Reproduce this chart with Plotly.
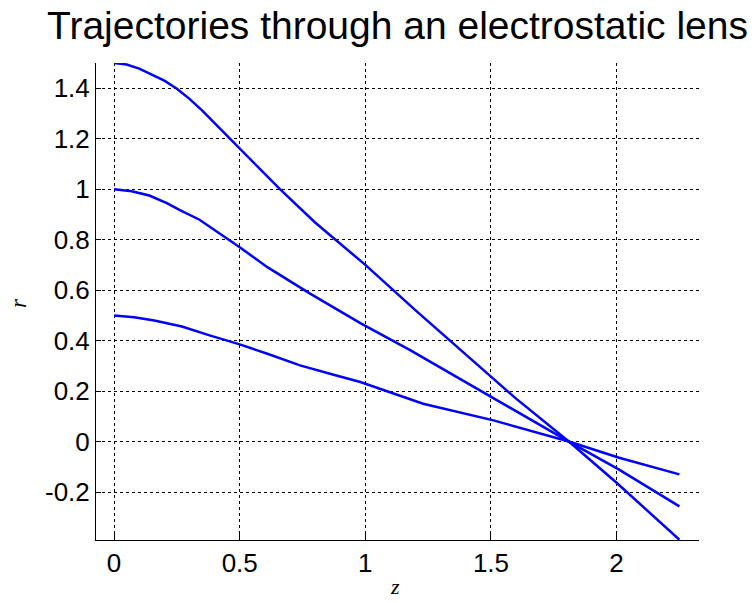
import plotly.graph_objects as go

# Trajectory data (z, r)
z_r15 = [0, 0.05, 0.10, 0.15, 0.20, 0.25, 0.30, 0.35, 0.40, 0.50, 0.60, 0.66, 0.80, 1.00, 1.20, 1.40, 1.60, 1.81, 2.00, 2.25]
r_r15 = [1.50, 1.494, 1.478, 1.455, 1.430, 1.398, 1.358, 1.312, 1.262, 1.162, 1.062, 1.0, 0.868, 0.70, 0.52, 0.345, 0.17, 0.0, -0.163, -0.389]

z_r10 = [0, 0.07, 0.14, 0.21, 0.26, 0.34, 0.50, 0.61, 0.78, 0.98, 1.18, 1.50, 1.81, 2.01, 2.25]
r_r10 = [1.0, 0.992, 0.975, 0.945, 0.918, 0.879, 0.77, 0.691, 0.586, 0.469, 0.361, 0.176, 0.0, -0.111, -0.257]

z_r05 = [0, 0.08, 0.16, 0.27, 0.38, 0.50, 0.61, 0.74, 0.87, 0.98, 1.23, 1.51, 1.81, 2.01, 2.25]
r_r05 = [0.5, 0.493, 0.48, 0.456, 0.421, 0.385, 0.348, 0.302, 0.266, 0.236, 0.15, 0.084, 0.0, -0.064, -0.13]

x_ticks = [0, 0.5, 1, 1.5, 2]
x_ticklabels = ["0", "0.5", "1", "1.5", "2"]
y_ticks = [-0.2, 0, 0.2, 0.4, 0.6, 0.8, 1.0, 1.2, 1.4]
y_ticklabels = ["-0.2", "0", "0.2", "0.4", "0.6", "0.8", "1", "1.2", "1.4"]

fig = go.Figure()
for zs, rs in [(z_r15, r_r15), (z_r10, r_r10), (z_r05, r_r05)]:
    fig.add_trace(go.Scatter(x=zs, y=rs, mode="lines",
                             line=dict(color="#0000FF", width=2.5),
                             showlegend=False, hoverinfo="skip"))

tickfont = dict(family="Liberation Sans, Arial, sans-serif", size=26, color="black")
grid = dict(showgrid=True, gridcolor="black", gridwidth=1, griddash="3px,3px",
            zeroline=False, showline=True, linecolor="black", linewidth=1,
            ticks="inside", tickcolor="black", mirror=False, tickfont=tickfont,
            automargin=False)

fig.update_layout(
    width=754, height=603,
    margin=dict(l=96, r=55, t=63, b=63),
    paper_bgcolor="white", plot_bgcolor="white",
    title=dict(text="Trajectories through an electrostatic lens",
               font=dict(family="Liberation Sans, Arial, sans-serif", size=39, color="black"),
               x=0.5, xref="paper", xanchor="center",
               y=1 - 25 / 603, yref="container", yanchor="middle"),
    xaxis=dict(range=[-0.072, 2.328], tickvals=x_ticks, ticktext=x_ticklabels,
               ticklen=9, **grid),
    yaxis=dict(range=[-0.39, 1.5], tickvals=y_ticks, ticktext=y_ticklabels,
               ticklen=5, **grid),
    annotations=[
        dict(text="<i>z</i>", xref="paper", yref="paper", x=(395 - 96) / 603, y=(540 - 601) / 477,
             xanchor="center", yanchor="bottom", showarrow=False,
             font=dict(family="Liberation Serif, Times New Roman, serif", size=22, color="black")),
        dict(text="<i>r</i>", xref="paper", yref="paper", x=(18 - 96) / 603, y=(540 - 303) / 477,
             xanchor="center", yanchor="middle", showarrow=False, textangle=-90,
             font=dict(family="Liberation Serif, Times New Roman, serif", size=23, color="black")),
    ],
)

fig.write_html("out.html", config={"displayModeBar": False},
               post_script="document.body.style.margin='0';document.body.style.overflow='hidden';")
